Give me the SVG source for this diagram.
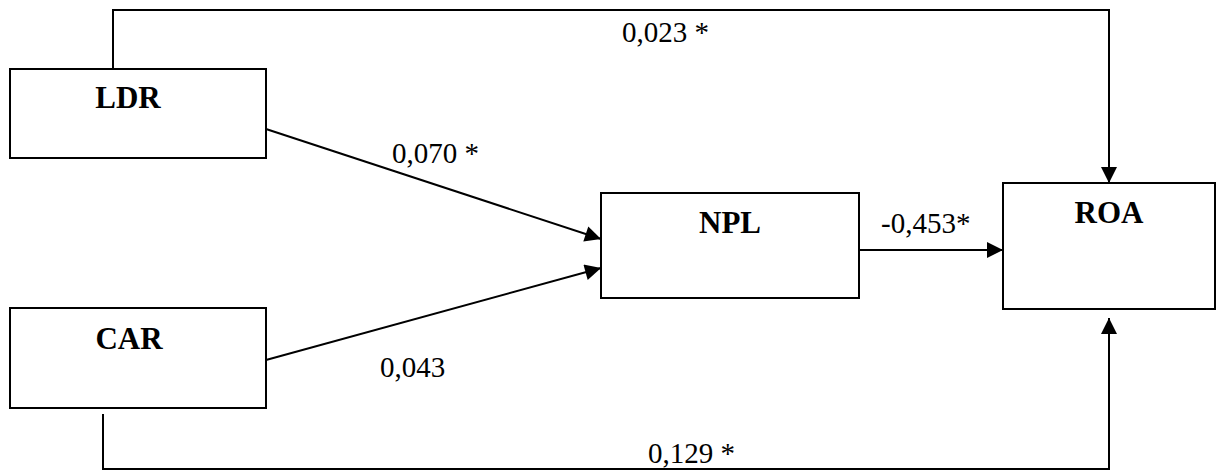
<svg xmlns="http://www.w3.org/2000/svg" width="1217" height="471" viewBox="0 0 1217 471">
  <style>
    .box { fill: #fff; stroke: #000; stroke-width: 2; }
    .name { font-weight: bold; font-size: 31px; text-anchor: middle; fill: #000; }
    .coef { font-size: 29px; fill: #000; }
    .link { fill: none; stroke: #000; stroke-width: 2; }
  </style>
  <defs>
    <marker id="head" viewBox="0 0 10 10" refX="10" refY="5" markerWidth="9" markerHeight="8" orient="auto">
      <path d="M0,0 L10,5 L0,10 Z" fill="#000"/>
    </marker>
  </defs>
  <rect width="1217" height="471" fill="#fff"/>

  <g id="connectors">
    <path class="link" d="M113,68 V10 H1109 V183" marker-end="url(#head)"/>
    <path class="link" d="M266,129 L601,239" marker-end="url(#head)"/>
    <path class="link" d="M266,360 L601,268" marker-end="url(#head)"/>
    <path class="link" d="M859,250 H1003" marker-end="url(#head)"/>
    <path class="link" d="M103,414 V469 H1109 V318" marker-end="url(#head)"/>
    <g font-family="Liberation Serif, Tinos, Times New Roman, Noto Serif, DejaVu Serif, serif">
      <text class="coef" x="622" y="42">0,023 *</text>
      <text class="coef" x="392" y="163">0,070 *</text>
      <text class="coef" x="380" y="377">0,043</text>
      <text class="coef" x="881" y="233">-0,453*</text>
      <text class="coef" x="648" y="463">0,129 *</text>
    </g>
  </g>

  <g font-family="Liberation Serif, Tinos, Times New Roman, Noto Serif, DejaVu Serif, serif">
    <g id="LDR">
      <rect class="box" x="10" y="69" width="256" height="89"/>
      <text class="name" x="128" y="108">LDR</text>
    </g>
    <g id="CAR">
      <rect class="box" x="10" y="308" width="256" height="100"/>
      <text class="name" x="129" y="349">CAR</text>
    </g>
    <g id="NPL">
      <rect class="box" x="601" y="193" width="258" height="105"/>
      <text class="name" x="730" y="233">NPL</text>
    </g>
    <g id="ROA">
      <rect class="box" x="1003" y="183" width="212" height="126"/>
      <text class="name" x="1109" y="223">ROA</text>
    </g>
  </g>
</svg>
